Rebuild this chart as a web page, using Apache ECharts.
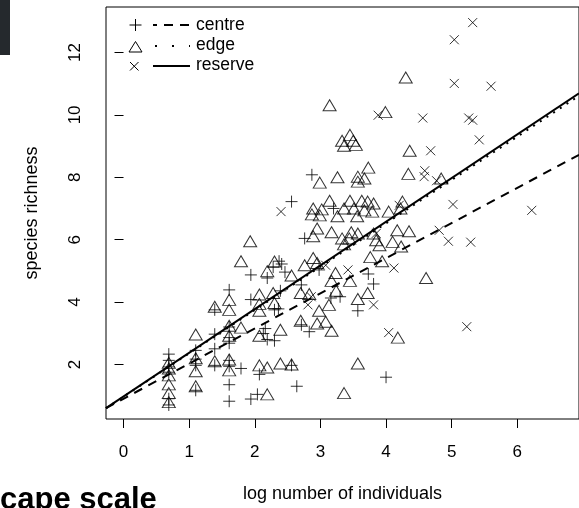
<!DOCTYPE html>
<html>
<head>
<meta charset="utf-8">
<script src="https://cdn.jsdelivr.net/npm/echarts@6/dist/echarts.min.js"></script>
<style>
html,body{margin:0;padding:0;background:#fff}
#main{width:579px;height:508px}
</style>
</head>
<body>
<div id="main"></div>
<script>
// axis ticks
var xTicks = [0, 1, 2, 3, 4, 5, 6];
var yTicks = [2, 4, 6, 8, 10, 12];

// log number of individuals / species richness
var centrePts = [
  [0.69,2.33],[0.69,2.13],[0.69,1.92],[0.69,1.75],[0.69,0.9],[0.69,0.7],
  [1.10,2.45],[1.10,2.17],[1.10,1.97],[1.10,1.17],
  [1.39,3.75],[1.39,2.97],[1.39,2.5],[1.39,1.97],
  [1.61,4.39],[1.61,3.2],[1.61,2.86],[1.61,2.68],[1.61,2.13],[1.61,1.94],[1.61,1.35],[1.61,0.82],
  [1.79,1.87],[1.94,4.87],[1.94,4.08],[1.94,0.89],[2.07,1.68],[2.04,1.04],
  [2.19,4.77],[2.13,2.99],[2.16,3.15],[2.19,2.8],[2.30,2.76],
  [2.28,5.12],[2.37,5.31],[2.46,4.96],[2.41,5.22],[2.30,3.75],[2.36,3.78],[2.39,4.36],
  [2.56,7.22],[2.56,1.97],[2.64,1.3],[2.71,4.55],[2.71,3.27],
  [2.76,6.04],[2.87,8.08],[2.98,5.03],[2.83,3.05],
  [3.20,7.0],[3.16,4.13],[3.30,4.17],[3.57,3.72],[3.73,4.9],[3.81,4.58],[4.0,1.59]
];
var edgePts = [
  [0.69,2.05],[0.69,1.87],[0.69,1.65],[0.69,1.36],[0.69,1.08],[0.69,0.79],
  [1.10,2.96],[1.10,2.2],[1.10,1.78],[1.10,1.3],
  [1.39,3.85],[1.39,2.1],
  [1.61,4.07],[1.61,3.75],[1.61,3.24],[1.61,2.92],[1.61,2.16],[1.61,1.81],
  [1.79,5.31],[1.79,3.18],[1.93,5.95],
  [2.07,4.24],[2.07,3.94],[2.07,3.72],[2.07,2.92],[2.07,1.97],
  [2.19,4.99],[2.19,1.9],[2.19,1.04],
  [2.30,5.3],[2.28,4.29],[2.30,3.97],[2.39,3.11],[2.39,2.03],
  [2.56,4.85],[2.56,2.0],[2.70,4.29],[2.70,3.4],[2.76,5.18],[2.83,4.26],
  [2.89,7.0],[2.87,6.81],[2.89,6.11],[2.89,5.41],[2.95,6.36],[2.95,5.25],[2.95,3.31],
  [2.99,7.83],[2.99,6.78],[2.98,3.72],[3.02,6.97],[3.08,3.37],
  [3.14,10.31],[3.14,7.25],[3.13,3.91],[3.17,6.24],[3.17,4.68],[3.17,3.08],
  [3.23,4.93],[3.24,4.36],[3.26,8.0],[3.26,6.75],
  [3.33,9.17],[3.33,6.04],[3.36,9.01],[3.36,7.0],[3.36,5.85],[3.36,1.08],
  [3.45,9.36],[3.45,7.25],[3.47,6.24],[3.44,6.04],[3.45,4.68],
  [3.50,9.17],[3.51,7.0],[3.54,9.04],
  [3.56,6.75],[3.57,8.02],[3.57,7.86],[3.57,6.2],[3.57,4.1],[3.57,2.03],
  [3.63,7.25],[3.67,7.96],[3.67,6.94],[3.72,7.22],[3.72,4.29],[3.73,8.31],[3.76,5.44],
  [3.79,6.9],[3.81,7.16],[3.81,6.2],[3.85,5.98],[3.90,5.82],[3.94,5.31],
  [3.99,10.09],[4.04,6.9],[4.10,5.93],[4.17,6.3],[4.35,6.27],[4.23,5.78],[4.61,4.77],[4.18,2.86],
  [4.22,7.0],[4.25,7.22],[4.34,8.11],[4.36,8.85],[4.30,11.2],[4.84,7.96]
];
var reservePts = [
  [2.40,6.9],[2.81,3.91],[2.86,4.17],[3.08,5.18],[3.42,5.03],[3.81,3.91],[3.85,6.2],
  [3.88,9.99],[4.04,3.02],[4.12,5.09],[4.20,7.1],
  [4.56,9.9],[4.58,8.02],[4.59,8.21],[4.68,8.85],[4.77,7.89],[4.81,6.3],[4.95,5.95],
  [5.02,7.13],[5.04,12.41],[5.04,11.01],[5.23,3.21],[5.26,9.9],[5.29,5.92],
  [5.32,12.96],[5.32,9.83],[5.42,9.2],[5.60,10.92],[6.22,6.94]
];

// fitted lines: centre, edge, reserve
var fitIntercept = [0.90, 0.965, 0.974];
var fitSlope = [1.127, 1.39, 1.40];

var xMin = -0.267, xMax = 6.94;
var yMin = 0.25, yMax = 13.46;
var FONT = 'Liberation Sans, Arial, Helvetica, sans-serif';

function fitLine(i) {
  return [xMin, xMax].map(function (x) { return [x, fitIntercept[i] + fitSlope[i] * x]; });
}

var plusPath = 'path://M5,0L5,10M0,5L10,5';
var crossPath = 'path://M0,0L10,10M0,10L10,0';
var markStyle = { color: 'transparent', borderColor: '#000', borderWidth: 1 };
var stroke1 = { stroke: '#000', lineWidth: 1, fill: null };
var legendFont = '17.5px ' + FONT;

var myChart = echarts.init(document.getElementById('main'));

var option = {
  animation: false,
  backgroundColor: '#fff',
  grid: {
    left: 106, top: 7, right: -13.5, bottom: 86,
    show: true, borderColor: '#000', borderWidth: 1
  },
  xAxis: {
    type: 'value', min: xMin, max: xMax,
    axisLine: { show: false },
    splitLine: { show: false },
    axisTick: { customValues: xTicks, length: 9, lineStyle: { color: '#000' } },
    axisLabel: { customValues: xTicks, margin: 25, fontSize: 17, color: '#000', fontFamily: FONT },
    name: 'log number of individuals', nameLocation: 'middle', nameGap: 66,
    nameTextStyle: { fontSize: 18, color: '#000', fontFamily: FONT }
  },
  yAxis: {
    type: 'value', min: yMin, max: yMax,
    axisLine: { show: false },
    splitLine: { show: false },
    axisTick: { customValues: yTicks, length: 9, lineStyle: { color: '#000' } },
    axisLabel: { customValues: yTicks, rotate: 90, margin: 22, fontSize: 17, color: '#000', fontFamily: FONT },
    name: 'species richness', nameLocation: 'middle', nameGap: 65,
    nameTextStyle: { fontSize: 18, color: '#000', fontFamily: FONT }
  },
  series: [
    { name: 'centre', type: 'scatter', data: centrePts, symbol: plusPath, symbolSize: 12, itemStyle: markStyle, silent: true },
    { name: 'edge', type: 'scatter', data: edgePts, symbol: 'triangle', symbolSize: [13, 11], itemStyle: markStyle, silent: true },
    { name: 'reserve', type: 'scatter', data: reservePts, symbol: crossPath, symbolSize: 9, itemStyle: markStyle, silent: true },
    { name: 'centre fit', type: 'line', data: fitLine(0), showSymbol: false, z: 5, silent: true,
      lineStyle: { color: '#000', width: 2, type: [9, 7] } },
    { name: 'edge fit', type: 'line', data: fitLine(1), showSymbol: false, z: 5, silent: true,
      lineStyle: { color: '#000', width: 2, type: [2, 6] } },
    { name: 'reserve fit', type: 'line', data: fitLine(2), showSymbol: false, z: 5, silent: true,
      lineStyle: { color: '#000', width: 2 } }
  ],
  graphic: [
    { type: 'rect', shape: { x: 0, y: 0, width: 10, height: 55 }, style: { fill: '#25292d' } },
    // legend, drawn by hand (symbol + line sample + label)
    { type: 'polyline', shape: { points: [[135.5, 19], [135.5, 31]] }, style: stroke1 },
    { type: 'polyline', shape: { points: [[129.5, 25], [141.5, 25]] }, style: stroke1 },
    { type: 'polyline', shape: { points: [[153, 25], [190, 25]] }, style: { stroke: '#000', lineWidth: 2, lineDash: [9, 7], lineDashOffset: 5, fill: null } },
    { type: 'text', style: { x: 196, y: 25, text: 'centre', font: legendFont, fill: '#000', verticalAlign: 'middle' } },
    { type: 'polygon', shape: { points: [[135.5, 41.5], [142, 52], [129, 52]] }, style: stroke1 },
    { type: 'polyline', shape: { points: [[155, 46], [190, 46]] }, style: { stroke: '#000', lineWidth: 2, lineDash: [2, 15], fill: null } },
    { type: 'text', style: { x: 196, y: 45, text: 'edge', font: legendFont, fill: '#000', verticalAlign: 'middle' } },
    { type: 'polyline', shape: { points: [[130, 62], [138.5, 70.5]] }, style: stroke1 },
    { type: 'polyline', shape: { points: [[130, 70.5], [138.5, 62]] }, style: stroke1 },
    { type: 'polyline', shape: { points: [[153, 66], [190, 66]] }, style: { stroke: '#000', lineWidth: 2, fill: null } },
    { type: 'text', style: { x: 196, y: 65, text: 'reserve', font: legendFont, fill: '#000', verticalAlign: 'middle' } },
    { type: 'text', style: { x: 0, y: 500, text: 'cape scale', font: 'bold 31px ' + FONT, fill: '#000', verticalAlign: 'middle' } }
  ]
};

myChart.setOption(option);
window.onresize = myChart.resize;
</script>
</body>
</html>
